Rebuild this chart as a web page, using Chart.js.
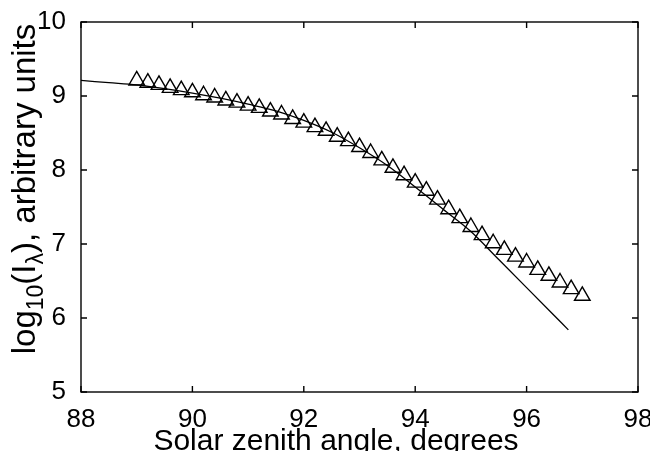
<!DOCTYPE html>
<html>
<head>
<meta charset="utf-8">
<script src="https://cdn.jsdelivr.net/npm/chart.js@4.4.0/dist/chart.umd.min.js"></script>
<style>
  html, body { margin: 0; padding: 0; background: #fff; }
  #wrap { width: 650px; height: 451px; }
</style>
</head>
<body>
<div id="wrap"><canvas id="zenithChart" width="650" height="451"></canvas></div>
<script>
// model curve (solid line)
const modelAngle = [88, 88.5, 89, 89.5, 90, 90.5, 91, 91.5, 92, 92.5, 93, 93.5, 94, 94.5, 95, 95.5, 96, 96.5, 96.75];
const modelLog = [9.21, 9.18, 9.15, 9.10, 9.04, 8.97, 8.89, 8.80, 8.67, 8.51, 8.30, 8.06, 7.77, 7.47, 7.17, 6.79, 6.41, 6.03, 5.84];

// measured points (triangles)
const obsAngle = [89.0, 89.2, 89.4, 89.6, 89.8, 90.0, 90.2, 90.4, 90.6, 90.8,
                  91.0, 91.2, 91.4, 91.6, 91.8, 92.0, 92.2, 92.4, 92.6, 92.8,
                  93.0, 93.2, 93.4, 93.6, 93.8, 94.0, 94.2, 94.4, 94.6, 94.8,
                  95.0, 95.2, 95.4, 95.6, 95.8, 96.0, 96.2, 96.4, 96.6, 96.8, 97.0];
const obsLog = [9.21, 9.18, 9.15, 9.11, 9.08, 9.05, 9.01, 8.98, 8.94, 8.91,
                8.87, 8.84, 8.79, 8.75, 8.69, 8.64, 8.58, 8.53, 8.45, 8.39,
                8.31, 8.23, 8.13, 8.03, 7.93, 7.83, 7.72, 7.60, 7.47, 7.35,
                7.23, 7.12, 7.01, 6.92, 6.83, 6.75, 6.65, 6.57, 6.48, 6.39, 6.30];

const xTicks = [88, 90, 92, 94, 96, 98];
const yTicks = [5, 6, 7, 8, 9, 10];

const FONT = '"Liberation Sans", Arial, Helvetica, sans-serif';

// frame, inward tick marks and the two axis titles (matlab look)
const matlabFrame = {
    id: 'matlabFrame',
    afterDraw(chart) {
        const ctx = chart.ctx;
        const area = chart.chartArea;
        const xs = chart.scales.x;
        const ys = chart.scales.y;
        const tickLen = 6;

        ctx.save();
        ctx.strokeStyle = '#000';
        ctx.lineWidth = 1.4;
        ctx.strokeRect(area.left, area.top, area.right - area.left, area.bottom - area.top);

        ctx.beginPath();
        xTicks.forEach(v => {
            const px = xs.getPixelForValue(v);
            ctx.moveTo(px, area.bottom);
            ctx.lineTo(px, area.bottom - tickLen);
            ctx.moveTo(px, area.top);
            ctx.lineTo(px, area.top + tickLen);
        });
        yTicks.forEach(v => {
            const py = ys.getPixelForValue(v);
            ctx.moveTo(area.left, py);
            ctx.lineTo(area.left + tickLen, py);
            ctx.moveTo(area.right, py);
            ctx.lineTo(area.right - tickLen, py);
        });
        ctx.stroke();

        // x title
        ctx.fillStyle = '#000';
        ctx.font = '30px ' + FONT;
        ctx.textAlign = 'center';
        ctx.textBaseline = 'alphabetic';
        ctx.fillText('Solar zenith angle, degrees', 336, 450);

        // y title with subscripts, rotated
        const parts = [
            { t: 'log', size: 33, shift: 0 },
            { t: '10', size: 23, shift: 8 },
            { t: '(I', size: 33, shift: 0 },
            { t: 'λ', size: 23, shift: 8 },
            { t: '), arbitrary units', size: 33, shift: 0 }
        ];
        let total = 0;
        parts.forEach(p => {
            ctx.font = p.size + 'px ' + FONT;
            p.w = ctx.measureText(p.t).width;
            total += p.w;
        });
        ctx.translate(35, 189);
        ctx.rotate(-Math.PI / 2);
        ctx.textAlign = 'left';
        let pos = -total / 2;
        parts.forEach(p => {
            ctx.font = p.size + 'px ' + FONT;
            ctx.fillText(p.t, pos, p.shift);
            pos += p.w;
        });
        ctx.restore();
    }
};

const ctx = document.getElementById('zenithChart').getContext('2d');
const zenithChart = new Chart(ctx, {
    type: 'scatter',
    data: {
        datasets: [
            {
                label: 'model',
                data: modelAngle.map((a, i) => ({ x: a, y: modelLog[i] })),
                showLine: true,
                borderColor: '#000',
                borderWidth: 1.3,
                pointRadius: 0,
                cubicInterpolationMode: 'monotone',
                fill: false
            },
            {
                label: 'measured',
                data: obsAngle.map((a, i) => ({ x: a, y: obsLog[i] })),
                showLine: false,
                pointStyle: 'triangle',
                pointRadius: 9,
                pointBorderWidth: 1.4,
                pointBorderColor: '#000',
                pointBackgroundColor: 'rgba(0,0,0,0)'
            }
        ]
    },
    options: {
        responsive: false,
        devicePixelRatio: 1,
        animation: false,
        layout: { padding: { top: 22, right: 12, left: 0, bottom: 0 } },
        plugins: {
            legend: { display: false },
            tooltip: { enabled: false }
        },
        scales: {
            x: {
                type: 'linear',
                min: 88,
                max: 98,
                grid: { display: false },
                border: { display: false },
                afterBuildTicks: s => { s.ticks = xTicks.map(v => ({ value: v })); },
                afterFit: s => {
                    s.height = 59;
                    s.paddingLeft = 0;
                    s.paddingRight = 0;
                },
                ticks: {
                    padding: 4,
                    color: '#000',
                    maxRotation: 0,
                    font: { family: FONT, size: 26 }
                }
            },
            y: {
                type: 'linear',
                min: 5,
                max: 10,
                grid: { display: false },
                border: { display: false },
                afterBuildTicks: s => { s.ticks = yTicks.map(v => ({ value: v })); },
                afterFit: s => {
                    s.width = 81;
                    s.paddingTop = 0;
                    s.paddingBottom = 0;
                },
                ticks: {
                    padding: 7,
                    color: '#000',
                    font: { family: FONT, size: 26 }
                }
            }
        }
    },
    plugins: [matlabFrame]
});
</script>
</body>
</html>
